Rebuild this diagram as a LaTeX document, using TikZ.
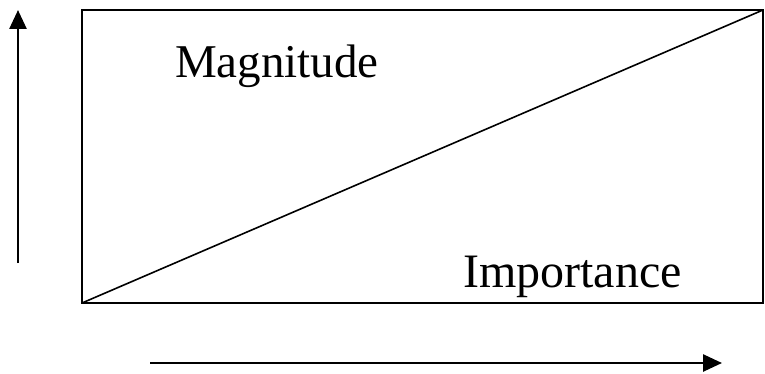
\documentclass[tikz,border=0pt]{standalone}
\usepackage{fontspec}
\setmainfont{Liberation Serif}
\usetikzlibrary{arrows.meta}
\begin{document}
\begin{tikzpicture}[x=1pt,y=-1pt,
  lbl/.style={anchor=base west,inner sep=0pt,font=\fontsize{47}{50}\selectfont},
  axis/.style={line width=2.6pt,-{Triangle[length=19pt,width=17pt]}}]
\useasboundingbox (0,0) rectangle (765,374);
\coordinate (bl) at (82,303);
\coordinate (tr) at (763,10);
\draw[line width=2pt] (bl) rectangle (tr);
\draw[line width=1.6pt] (bl) -- (tr);
\node[lbl] (mag) at (175,78) {Magnitude};
\node[lbl,font=\fontsize{48}{50}\selectfont] (imp) at (463,287) {Importance};
\coordinate (v0) at (18,263);
\coordinate (v1) at (18,10);
\draw[axis] (v0) -- (v1);
\coordinate (h0) at (150,363);
\coordinate (h1) at (722,363);
\draw[axis] (h0) -- (h1);
\end{tikzpicture}
\end{document}
